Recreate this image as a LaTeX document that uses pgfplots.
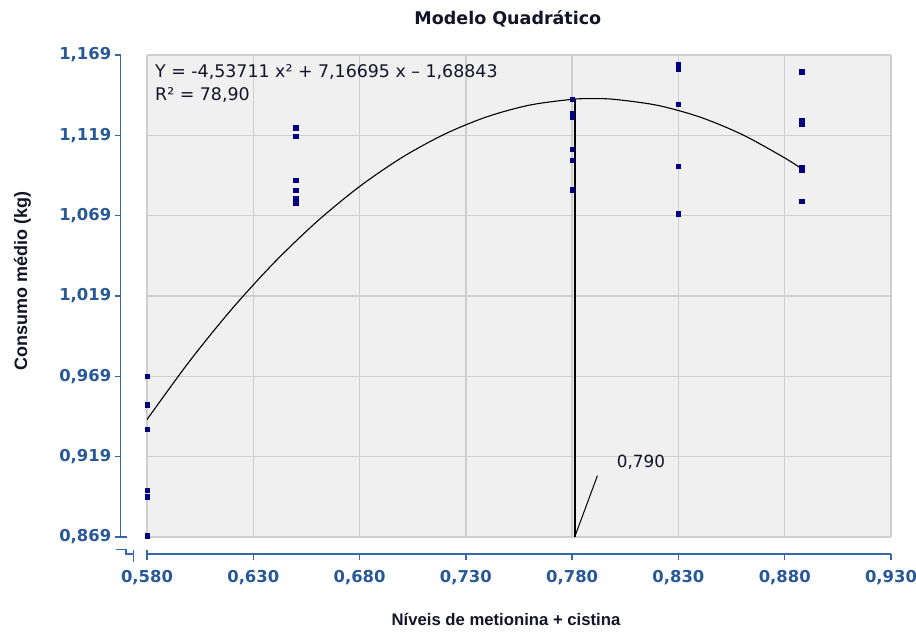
\documentclass[border=0pt]{standalone}
\usepackage{fontspec}
\setmainfont{Liberation Sans}
\newfontfamily\dejavu{DejaVu Sans}
\usepackage{pgfplots}
\pgfplotsset{compat=1.18}
\definecolor{bggray}{RGB}{240,240,240}
\definecolor{gridgray}{RGB}{206,206,206}
\definecolor{tickblue}{RGB}{41,88,150}
\definecolor{axisblue}{RGB}{55,105,170}
\definecolor{navy}{RGB}{0,0,128}
\definecolor{txt}{RGB}{20,20,40}
\begin{document}
\begin{tikzpicture}
\begin{axis}[name=ax, scale only axis, width=744pt, height=482pt,
 xmin=0.58, xmax=0.93, ymin=0.869, ymax=1.169,
 xtick={0.58,0.63,0.68,0.73,0.78,0.83,0.88,0.93},
 ytick={0.869,0.919,0.969,1.019,1.069,1.119,1.169},
 axis x line*=bottom, axis y line*=left,
 axis x line shift=17pt, axis y line shift=26.3pt,
 axis line style={axisblue, line width=1.5pt},
 tick align=outside, major tick length=6pt,
 tick style={axisblue, line width=1.5pt},
 grid=major, grid style={gridgray, line width=1.4pt},
 axis background/.style={fill=bggray},
 ticklabel style={font=\dejavu\bfseries\fontsize{16.4}{18}\selectfont, text=tickblue},
 xticklabel style={yshift=-7pt},
 /pgf/number format/fixed, /pgf/number format/fixed zerofill,
 /pgf/number format/precision=3, /pgf/number format/use comma,
 /pgf/number format/assume math mode=true,
 title={Modelo Quadrático},
 title style={at={(axis description cs:0.485,1.0635)}, anchor=center, font=\dejavu\bfseries\fontsize{17.5}{20}\selectfont, text=txt},
 xlabel={Níveis de metionina + cistina},
 xlabel style={at={(axis description cs:0.4825,-0.172)}, anchor=center, font=\bfseries\fontsize{16.7}{20}\selectfont, text=txt},
 ylabel={Consumo médio (kg)},
 ylabel style={at={(axis description cs:-0.1673,0.5317)}, anchor=center, font=\bfseries\fontsize{18}{20}\selectfont, text=txt},
]
% fitted curve
\addplot[black, line width=1.1pt, smooth] coordinates {
 (0.580,0.94212) (0.600,0.97838) (0.620,1.01102) (0.640,1.04002) (0.660,1.06540)
 (0.680,1.08714) (0.700,1.10526) (0.720,1.11973) (0.740,1.13059) (0.760,1.13782)
 (0.780,1.14141) (0.790,1.14185) (0.800,1.14138) (0.820,1.13772) (0.840,1.13043)
 (0.860,1.11950) (0.880,1.10495) (0.888,1.09811)};
% vertical line at max and leader
\addplot[black, line width=2pt] coordinates {(0.7812,0.869) (0.7812,1.1416)};
\addplot[black, line width=1pt] coordinates {(0.7812,0.869) (0.7919,0.9072)};
% observations
\addplot[only marks, mark=square*, mark size=2.1pt, color=navy, mark options={fill=navy, draw=navy}] coordinates {
 (0.58,0.9692) (0.58,0.9513) (0.58,0.9362) (0.58,0.8983) (0.58,0.8941) (0.58,0.8698)
 (0.65,1.1237) (0.65,1.1186) (0.65,1.0912) (0.65,1.0850) (0.65,1.0796) (0.65,1.0771)
 (0.78,1.1416) (0.78,1.1329) (0.78,1.1301) (0.78,1.1105) (0.78,1.1034) (0.78,1.0852)
 (0.83,1.1635) (0.83,1.1605) (0.83,1.1385) (0.83,1.0999) (0.83,1.0702)
 (0.888,1.1586) (0.888,1.1281) (0.888,1.1260) (0.888,1.0992) (0.888,1.0972) (0.888,1.0781)};
\node[anchor=base west, inner sep=0, font=\dejavu\fontsize{17.4}{20}\selectfont, text=txt] at (rel axis cs:0.01075,0.9523) {Y = -4,53711 x² + 7,16695 x – 1,68843};
\node[anchor=base west, inner sep=0, font=\dejavu\fontsize{17.4}{20}\selectfont, text=txt] at (rel axis cs:0.01075,0.9066) {R² = 78,90};
\node[anchor=base west, inner sep=0, font=\dejavu\fontsize{16.8}{20}\selectfont, text=txt] at (axis cs:0.80097,0.91257) {0,790};
\end{axis}
\begin{scope}[shift={(ax.south west)}, x=1pt, y=1pt, axisblue, line width=1.5pt]
 \draw (-26.3,0) -- (-20.3,0);
 \draw (-31,-12.3) -- (-21,-12.3) -- (-21,-17) -- (-13.7,-17);
 \draw (-13.7,-13) -- (-13.7,-24.7);
 \draw (0,-13) -- (0,-17);
\end{scope}
\pgfresetboundingbox
\path[use as bounding box] ([shift={(-147pt,-96pt)}]ax.south west) rectangle ([shift={(769pt,537pt)}]ax.south west);
\end{tikzpicture}
\end{document}
